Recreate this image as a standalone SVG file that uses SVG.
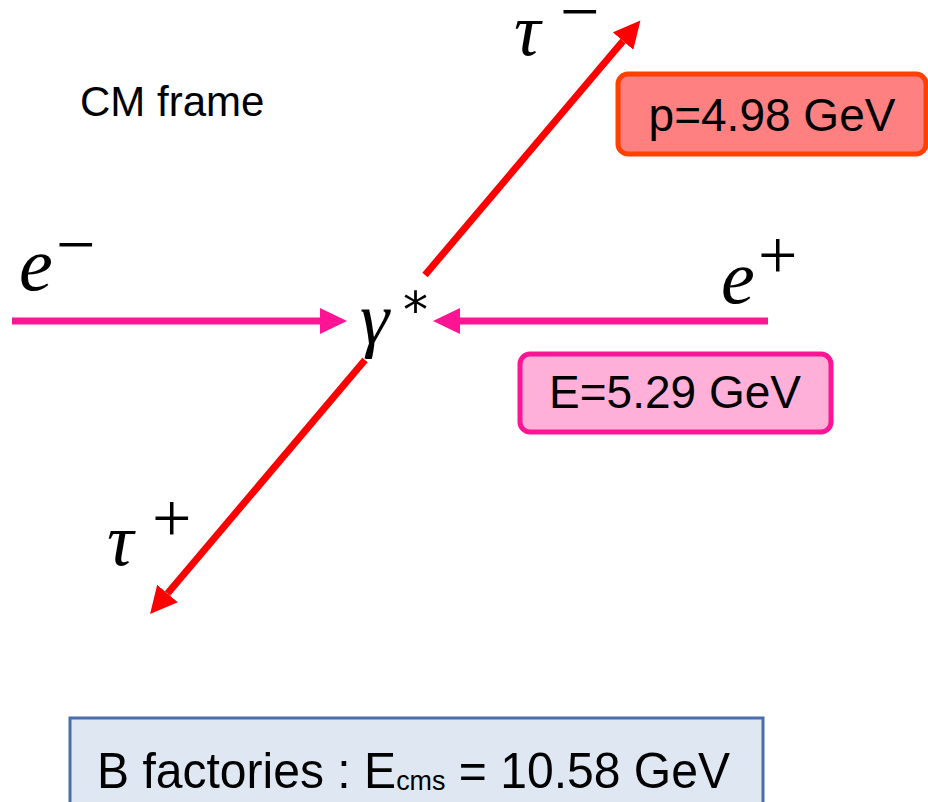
<svg xmlns="http://www.w3.org/2000/svg" width="928" height="802" viewBox="0 0 928 802">
<style>
.sans{font-family:"Liberation Sans",Arial,sans-serif;fill:#000}
.math{font-family:"Liberation Serif","Times New Roman",serif;font-style:italic;fill:#000}
.op{font-family:"Liberation Serif","Times New Roman",serif;fill:#000}
.ast{font-family:"DejaVu Sans","Liberation Sans",sans-serif;fill:#000}
.red{stroke:#ff0000;stroke-width:7;fill:none}
.pink{stroke:#ff1493;stroke-width:7;fill:none}
</style>
<defs>
<marker id="ahRed" markerUnits="userSpaceOnUse" viewBox="0 0 27 27" refX="0" refY="13.5" markerWidth="27" markerHeight="27" orient="auto">
<path d="M0,0 L27,13.5 L0,27 z" fill="#ff0000"/>
</marker>
<marker id="ahPink" markerUnits="userSpaceOnUse" viewBox="0 0 27 26" refX="0" refY="13" markerWidth="27" markerHeight="26" orient="auto">
<path d="M0,0 L27,13 L0,26 z" fill="#ff1493"/>
</marker>
</defs>
<rect width="928" height="802" fill="#ffffff"/>
<g id="connectors">
<line class="red" x1="425" y1="275" x2="623" y2="41" marker-end="url(#ahRed)"/>
<line class="red" x1="365" y1="360" x2="167.5" y2="593.5" marker-end="url(#ahRed)"/>
<line class="pink" x1="12" y1="321" x2="320" y2="321" marker-end="url(#ahPink)"/>
<line class="pink" x1="768" y1="321" x2="460" y2="321" marker-end="url(#ahPink)"/>
</g>
<g id="label-cm">
<text class="sans" x="80" y="116" font-size="42">CM frame</text>
</g>
<g id="node-gamma">
<text class="math" x="360" y="343" font-size="74">γ</text>
<text class="ast" x="403" y="327" font-size="50">*</text>
</g>
<g id="node-eminus">
<text class="math" x="19" y="290" font-size="76">e</text>
<text class="op" x="56" y="268" font-size="70">−</text>
</g>
<g id="node-eplus">
<text class="math" x="721" y="303" font-size="76">e</text>
<text class="op" x="758" y="279" font-size="70">+</text>
</g>
<g id="node-tauminus">
<text class="math" x="514" y="55" font-size="74">τ</text>
<text class="op" x="560" y="35" font-size="70">−</text>
</g>
<g id="node-tauplus">
<text class="math" x="107" y="565" font-size="74">τ</text>
<text class="op" x="152" y="542" font-size="70">+</text>
</g>
<g id="box-p">
<rect x="618" y="74" width="308" height="80" rx="10" fill="#ff8080" stroke="#ff4000" stroke-width="5"/>
<text class="sans" x="772" y="131" font-size="46" text-anchor="middle">p=4.98 GeV</text>
</g>
<g id="box-e">
<rect x="520" y="354" width="311" height="78" rx="10" fill="#ffb0d8" stroke="#ff1493" stroke-width="5"/>
<text class="sans" x="675" y="408" font-size="46" text-anchor="middle">E=5.29 GeV</text>
</g>
<g id="box-b">
<rect x="70" y="718" width="693" height="100" fill="#dfe7f3" stroke="#4a6ea9" stroke-width="3"/>
<text class="sans" x="97" y="788" font-size="50" textLength="633" lengthAdjust="spacingAndGlyphs">B factories : E<tspan font-size="28" dy="2">cms</tspan><tspan dy="-2"> = 10.58 GeV</tspan></text>
</g>
</svg>
